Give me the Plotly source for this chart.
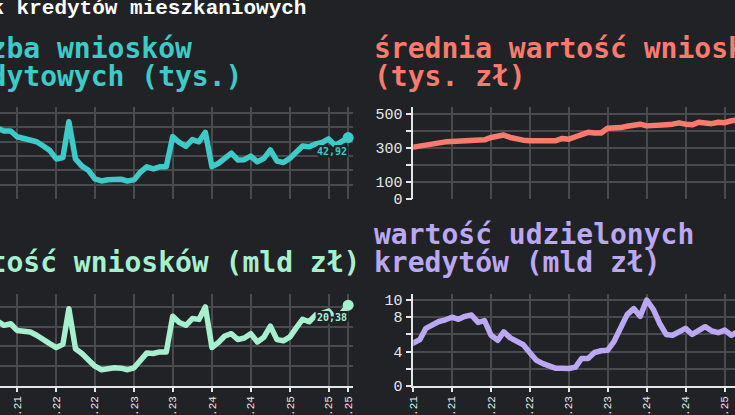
import pandas as pd
import plotly.graph_objects as go

# ---------------- data ----------------
months = pd.date_range("2021-01-01", periods=58, freq="MS")

liczba_wnioskow = [50, 51, 50, 49.5, 47.5, 47.5, 43.5, 42.5, 41.5, 40, 37, 34,
                   28, 29, 54, 28, 23, 20, 14, 12.6, 13.5, 14, 13.8, 12.5,
                   13.5, 19, 22.5, 21, 22.5, 22.6, 43.6, 39.5, 36.8, 41.5, 40, 46.6,
                   22.6, 25, 29, 32, 27.3, 27.5, 30, 26, 28.4, 34.3, 26.5, 25.5,
                   28.5, 33, 37, 36.5, 38.5, 39.5, 42, 37.5, 40, 42.92]

srednia_wartosc = [305, 312, 318, 327, 332, 336, 338, 340, 342, 344, 345, 348,
                   362, 370, 376, 362, 350, 346, 343, 342, 342, 342, 343, 356,
                   352, 366, 380, 392, 388, 388, 416, 416, 420, 428, 435, 440,
                   430, 430, 433, 437, 440, 448, 440, 436, 451, 447, 443, 451,
                   449, 460, 468, 468, 472, 475, 478, 476, 480, 482]

wartosc_wnioskow = [15.5, 16, 16.2, 16.3, 15.3, 15.7, 14.0, 13.8, 13.6, 12.8, 11.6, 10.7,
                    9.7, 10.5, 19.5, 9.4, 8.2, 6.7, 5.0, 4.1, 4.5, 4.6, 4.5, 4.1,
                    4.6, 6.5, 8.3, 8.2, 8.6, 8.6, 17.6, 16.0, 15.3, 17.0, 16.8, 19.95,
                    9.7, 11.0, 12.6, 13.2, 11.7, 12.1, 13.2, 11.1, 12.3, 15.1, 11.7, 11.4,
                    12.4, 14.8, 16.8, 16.2, 17.9, 18.3, 18.9, 17.0, 18.4, 20.38]

udzielone_kredyty = [5.0, 5.4, 6.7, 7.2, 7.5, 7.7, 8.0, 7.75, 8.1, 8.25, 7.4, 7.6,
                     5.9, 5.3, 6.3, 5.6, 5.2, 4.8, 3.9, 3.0, 2.6, 2.3, 2.05, 2.05,
                     2.03, 2.2, 3.2, 3.2, 3.9, 4.1, 4.15, 5.2, 6.8, 8.3, 9.0, 8.1,
                     10.0, 8.9, 7.3, 6.0, 5.9, 6.3, 6.7, 6.0, 6.4, 6.9, 6.4, 6.2,
                     6.5, 5.9, 6.3, 6.5, 6.8, 6.6, 7.0, 7.2, 7.4, 7.6]

tick_dates = ["2021-01-01", "2021-07-01", "2022-01-01", "2022-07-01", "2023-01-01",
              "2023-07-01", "2024-01-01", "2024-07-01", "2025-01-01", "2025-07-01",
              "2025-10-01"]
tick_labels = ["sty.21", "lip.21", "sty.22", "lip.22", "sty.23", "lip.23",
               "sty.24", "lip.24", "sty.25", "lip.25", "paź.25"]

titles = {
    "tl": ["Liczba wniosków", "kredytowych (tys.)"],
    "tr": ["średnia wartość wniosku", "(tys. zł)"],
    "bl": ["Wartość wniosków (mld zł)"],
    "br": ["wartość udzielonych", "kredytów (mld zł)"],
}
main_title = "Rynek kredytów mieszkaniowych"

# ---------------- style ----------------
BG = "#212226"
GRID = "#4a4a4e"
AXIS = "#e6e6e6"
TEAL = "#3ECBC8"
SALMON = "#FA7A6D"
MINT = "#A6F0CF"
LAVENDER = "#BAA8F2"
W, H = 735, 415

def px_x(p):
    return p / W

def px_y(p):
    return 1 - p / H

fig = go.Figure()

def add_line(y, color, xa, ya, last_marker):
    fig.add_trace(go.Scatter(x=months, y=y, mode="lines", xaxis=xa, yaxis=ya,
                             line=dict(color=color, width=5.5), hoverinfo="skip",
                             showlegend=False))
    if last_marker:
        fig.add_trace(go.Scatter(x=[months[-1]], y=[y[-1]], mode="markers", xaxis=xa, yaxis=ya,
                                 marker=dict(color=color, size=11), hoverinfo="skip",
                                 showlegend=False, cliponaxis=False))

add_line(liczba_wnioskow, TEAL, "x", "y", True)
add_line(srednia_wartosc, SALMON, "x2", "y2", True)
add_line(wartosc_wnioskow, MINT, "x3", "y3", True)
add_line(udzielone_kredyty, LAVENDER, "x4", "y4", True)

left_dom = [0, px_x(353.3)]
right_dom = [px_x(413.3), 1]
top_dom = [px_y(199), px_y(107)]
bot_dom = [px_y(386), px_y(294)]
left_range = ["2021-04-12", "2025-10-25"]
right_range = ["2021-01-01", "2025-02-18"]

grid_x = dict(type="date", tickmode="array", tickvals=tick_dates, showgrid=True,
              gridcolor=GRID, gridwidth=1.5, zeroline=False, automargin=False)

top_x = dict(grid_x, showticklabels=False, ticks="", showline=False)
bot_x = dict(grid_x, ticktext=tick_labels, showticklabels=True, tickangle=-90,
             ticks="outside", ticklen=4, tickcolor=AXIS, tickwidth=1.5,
             showline=True, linecolor=AXIS, linewidth=1.5,
             tickfont=dict(family="Liberation Mono", size=11, color=AXIS))

fig.update_layout(
    width=W, height=H, margin=dict(l=0, r=0, t=0, b=0, pad=0, autoexpand=False),
    paper_bgcolor=BG, plot_bgcolor=BG, showlegend=False,
    xaxis=dict(top_x, domain=left_dom, range=left_range, anchor="y"),
    xaxis2=dict(top_x, domain=right_dom, range=right_range, anchor="y2"),
    xaxis3=dict(bot_x, domain=left_dom, range=left_range, anchor="y3"),
    xaxis4=dict(bot_x, domain=right_dom, range=right_range, anchor="y4"),
    yaxis=dict(domain=top_dom, range=[0, 64.3], tickvals=[0, 10, 20, 30, 40, 50, 60],
               showticklabels=False, gridcolor=GRID, gridwidth=1.5, zeroline=False,
               anchor="x", automargin=False),
    yaxis2=dict(domain=top_dom, range=[0, 541], tickvals=[0, 100, 200, 300, 400, 500],
                ticktext=["0", "100", "", "300", "", "500"], gridcolor=GRID, gridwidth=1.5,
                zeroline=False, showline=True, linecolor=AXIS, linewidth=1.5,
                ticks="outside", ticklen=6, tickcolor=AXIS, tickwidth=1.5, automargin=False,
                tickfont=dict(family="Liberation Mono", size=15, color=AXIS), anchor="x2"),
    yaxis3=dict(domain=bot_dom, range=[0, 23.2], tickvals=[0, 5, 10, 15, 20],
                showticklabels=False, gridcolor=GRID, gridwidth=1.5, zeroline=False,
                anchor="x3", automargin=False),
    yaxis4=dict(domain=bot_dom, range=[0, 10.7], tickvals=[0, 2, 4, 6, 8, 10],
                ticktext=["0", "", "4", "", "8", "10"], gridcolor=GRID, gridwidth=1.5,
                zeroline=False, showline=True, linecolor=AXIS, linewidth=1.5,
                ticks="outside", ticklen=6, tickcolor=AXIS, tickwidth=1.5, automargin=False,
                tickfont=dict(family="Liberation Mono", size=15, color=AXIS), anchor="x4"),
)

TFONT = "DejaVu Sans Mono"

def title_lines(lines, x_px, last_baseline, color):
    n = len(lines)
    for i, t in enumerate(lines):
        base = last_baseline - (n - 1 - i) * 28.5
        fig.add_annotation(text=f"<b>{t}</b>", xref="paper", yref="paper",
                           x=px_x(x_px), y=px_y(base - 9.7), xanchor="left", yanchor="middle",
                           showarrow=False, font=dict(family=TFONT, size=28, color=color))

title_lines(titles["tl"], -63, 86.5, TEAL)
title_lines(titles["tr"], 372, 86.5, SALMON)
title_lines(titles["bl"], -63, 272.5, MINT)
title_lines(titles["br"], 372, 272.5, LAVENDER)

fig.add_annotation(text=f"<b>{main_title}</b>", xref="paper", yref="paper",
                   x=px_x(-61), y=px_y(8.5), xanchor="left", yanchor="middle",
                   showarrow=False, font=dict(family="Liberation Mono", size=21, color="#ffffff"))

halo = ", ".join(f"{dx}px {dy}px 0 {BG}" for dx in (-2, -1, 0, 1, 2) for dy in (-2, -1, 0, 1, 2))

def value_label(series, color, xa, ya, yshift):
    fig.add_annotation(text=f"<b>{str(series[-1]).replace('.', ',')}</b>",
                       xref=xa, yref=ya, x=months[-1], y=series[-1],
                       xanchor="right", yanchor="middle", yshift=yshift, xshift=1,
                       showarrow=False,
                       font=dict(family=TFONT, size=10, color=color, shadow=halo))

value_label(liczba_wnioskow, TEAL, "x", "y", -14)
value_label(wartosc_wnioskow, MINT, "x3", "y3", -12)

page_js = (
    "document.body.style.margin='0';"
    "document.body.style.overflow='hidden';"
    "var s=document.createElement('style');"
    "s.textContent='.scatterlayer path.js-line{stroke-linejoin:round;stroke-linecap:round;}';"
    "document.head.appendChild(s);"
)

fig.write_html("out.html", post_script=page_js, config={"displayModeBar": False})
